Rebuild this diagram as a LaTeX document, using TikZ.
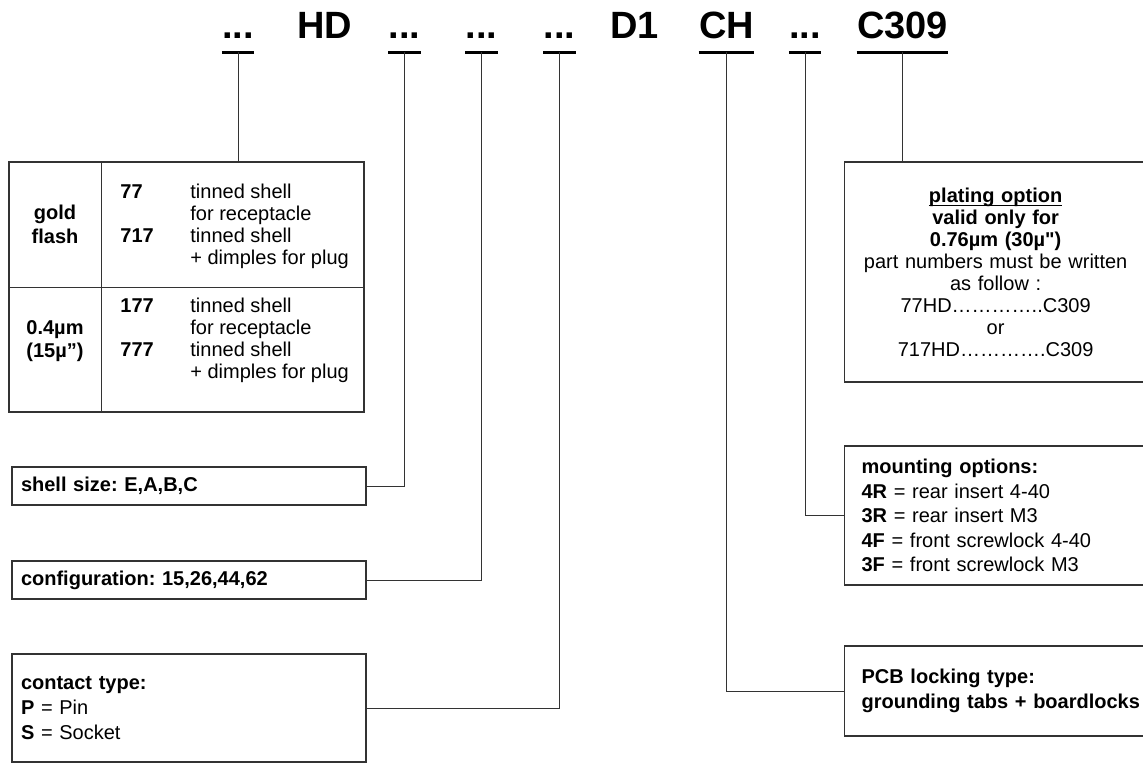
\documentclass[tikz,border=0pt]{standalone}
\usepackage{fontspec}
\setmainfont{Liberation Sans}[Ligatures=TeXOff]
\frenchspacing
\tikzset{
  token/.style={font=\fontsize{19}{19}\selectfont\bfseries, anchor=base,
    inner xsep=0pt, inner ysep=0pt, text depth=6.5pt},
  uline/.style={line width=1.5pt},
  conn/.style={draw=black!80, line width=0.5pt},
  optbox/.style={draw=black!80, line width=0.6pt, rectangle, align=left,
    inner xsep=4.5pt, inner ysep=0pt, font=\fontsize{10}{12.5}\selectfont},
  sidebox/.style={optbox, anchor=west, inner xsep=8.5pt, text width=150pt}
}
\begin{document}
\begin{tikzpicture}[x=0.5pt, y=-0.5pt]
  \useasboundingbox (0,0) rectangle (1143,763);

  % Part number
  \node[token] (d1) at (238,39) {...};
  \node[token] (hd) at (324.5,39) {HD};
  \node[token] (d2) at (404.5,39) {...};
  \node[token] (d3) at (481.5,39) {...};
  \node[token] (d4) at (559.5,39) {...};
  \node[token] (done) at (634.5,39) {D1};
  \node[token] (ch) at (726.5,39) {CH};
  \node[token] (d5) at (805,39) {...};
  \node[token] (cn) at (902.5,39) {C309};
  \foreach \t in {d1,d2,d3,d4,ch,d5,cn}
    \draw[uline] (\t.south west) -- (\t.south east);

  % Plating table
  \node[optbox, minimum width=177.5pt, minimum height=125pt] (tbl) at (186.5,287) {};
  \draw[conn] (101,162) -- (101,412);
  \draw[conn] (9,288) -- (364,288);
  \node[font=\fontsize{10}{12}\selectfont\bfseries, align=center] (gold) at (55,224) {gold\\flash};
  \node[font=\fontsize{10}{11.5}\selectfont\bfseries, align=center] (thin) at (55,341) {0.4µm\\(15µ”)};
  \node[anchor=west, inner sep=0pt, font=\fontsize{10}{11}\selectfont] (gopt) at (120,227.5) {%
    \begin{tabular}{@{}p{35pt}@{}l@{}}
      \textbf{77} & tinned shell\\
                  & for receptacle\\
      \textbf{717} & tinned shell\\
                  & + dimples for plug
    \end{tabular}};
  \node[anchor=west, inner sep=0pt, font=\fontsize{10}{11}\selectfont] (topt) at (120,341.5) {%
    \begin{tabular}{@{}p{35pt}@{}l@{}}
      \textbf{177} & tinned shell\\
                  & for receptacle\\
      \textbf{777} & tinned shell\\
                  & + dimples for plug
    \end{tabular}};

  % Left boxes
  \node[optbox, text width=168pt, minimum height=19pt] (shell) at (189,486)
    {\textbf{shell size: E,A,B,C}};
  \node[optbox, text width=168pt, minimum height=19pt] (config) at (189,580)
    {\textbf{configuration: 15,26,44,62}};
  \node[optbox, text width=168pt, minimum height=54pt] (contact) at (189,708)
    {\textbf{contact type:}\\ \textbf{P} = Pin\\ \textbf{S} = Socket};

  % Right boxes
  \node[sidebox, inner xsep=2pt, align=center, text width=147pt, minimum height=110pt,
    font=\fontsize{10}{11}\selectfont] (plating) at (844,272)
    {\underline{\smash{\textbf{plating option}}}\vphantom{\textbf{plating option}}\\
     \textbf{valid only for}\\
     \textbf{0.76µm (30µ")}\\
     part numbers must be written\\
     as follow :\\
     77HD…………..C309\\
     or\\
     717HD………….C309};
  \node[sidebox, minimum height=69.5pt, font=\fontsize{10}{12.25}\selectfont] (mount) at (844,515.5)
    {\textbf{mounting options:}\\
     \textbf{4R} = rear insert 4-40\\
     \textbf{3R} = rear insert M3\\
     \textbf{4F} = front screwlock 4-40\\
     \textbf{3F} = front screwlock M3};
  \node[sidebox, minimum height=45pt] (pcb) at (844,691)
    {\textbf{PCB locking type:}\\ \textbf{grounding tabs + boardlocks}};

  % Connectors
  \draw[conn] (d1.south) -- (d1.south |- tbl.north);
  \draw[conn] (d2.south) |- (shell.east);
  \draw[conn] (d3.south) |- (config.east);
  \draw[conn] (d4.south) |- (contact.east);
  \draw[conn] (ch.south) |- (pcb.west);
  \draw[conn] (d5.south) |- (mount.west);
  \draw[conn] (cn.south) -- (cn.south |- plating.north);
\end{tikzpicture}
\end{document}
